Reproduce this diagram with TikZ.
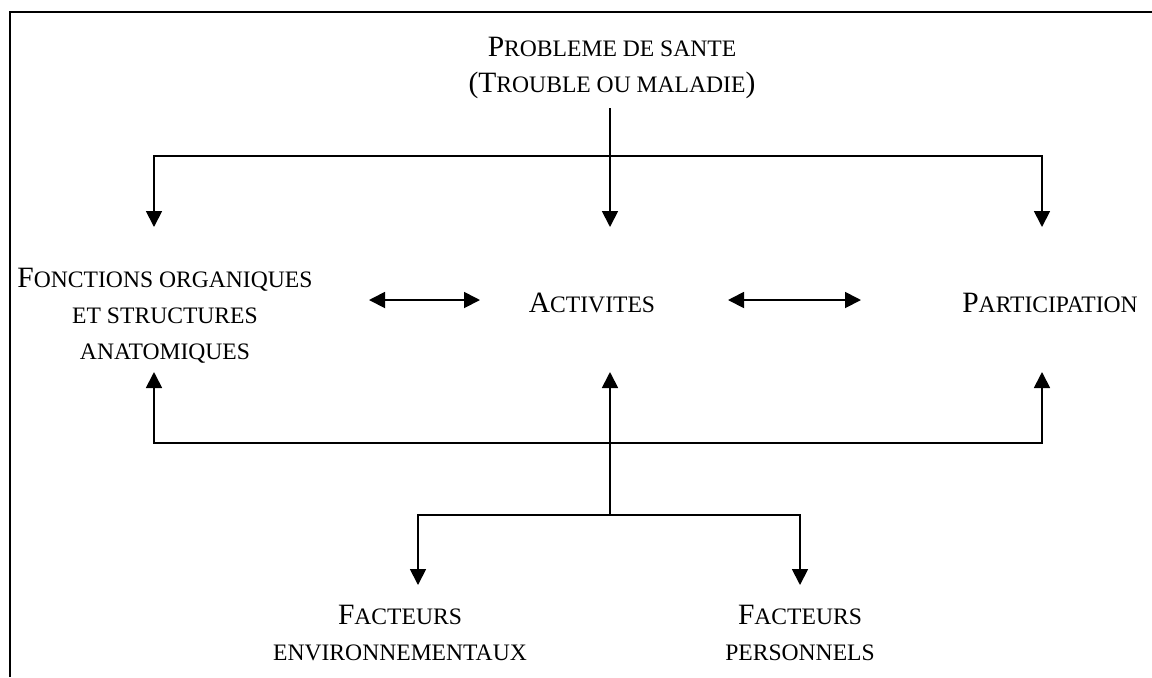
\documentclass[tikz,border=0pt]{standalone}
\usepackage{fontspec}
\setmainfont{Liberation Serif}
\usetikzlibrary{arrows.meta}
\newcommand{\petit}[1]{{\fontsize{11.8pt}{18pt}\selectfont #1}}
\tikzstyle{label} = [align=center, anchor=north, inner sep=0pt, font=\fontsize{14.75pt}{18pt}\selectfont]
\tikzstyle{frame} = [line width=1pt]
\tikzstyle{link} = [line width=0.9pt]

\begin{document}
\begin{tikzpicture}[x=0.5pt,y=-0.5pt,>={Triangle[length=8pt,width=8pt]}]
  \useasboundingbox (0,0) rectangle (1152,677);
  \draw[frame] (10,677) -- (10,12) -- (1152,12);

  \node[label] (sante) at (612,37) {P\petit{ROBLEME DE SANTE}\\(T\petit{ROUBLE OU MALADIE})};
  \node[label] (fonctions) at (165,268) {F\petit{ONCTIONS ORGANIQUES}\\\petit{ET STRUCTURES}\\\petit{ANATOMIQUES}};
  \node[label] (activites) at (592,293) {A\petit{CTIVITES}};
  \node[label] (participation) at (1050,293) {P\petit{ARTICIPATION}};
  \node[label] (environ) at (400,605) {F\petit{ACTEURS}\\\petit{ENVIRONNEMENTAUX}};
  \node[label] (personnels) at (800,605) {F\petit{ACTEURS}\\\petit{PERSONNELS}};

  \coordinate (source) at (610,108);
  \coordinate (split) at (610,156);
  \coordinate (inL) at (154,227);
  \coordinate (inC) at (610,227);
  \coordinate (inR) at (1042,227);
  \coordinate (outL) at (154,372);
  \coordinate (outC) at (610,372);
  \coordinate (outR) at (1042,372);
  \coordinate (join) at (610,443);
  \coordinate (fork) at (610,515);
  \coordinate (envin) at (418,585);
  \coordinate (persin) at (800,585);

  \draw[link] (source) -- (split);
  \draw[link,->] (split) -| (inL);
  \draw[link,->] (split) -- (inC);
  \draw[link,->] (split) -| (inR);

  \draw[link,<->] (369,300) -- (480,300);
  \draw[link,<->] (728,300) -- (861,300);

  \draw[link,->] (join) -| (outL);
  \draw[link,->] (join) -| (outR);
  \draw[link,->] (fork) -- (outC);
  \draw[link,->] (fork) -| (envin);
  \draw[link,->] (fork) -| (persin);
\end{tikzpicture}
\end{document}
